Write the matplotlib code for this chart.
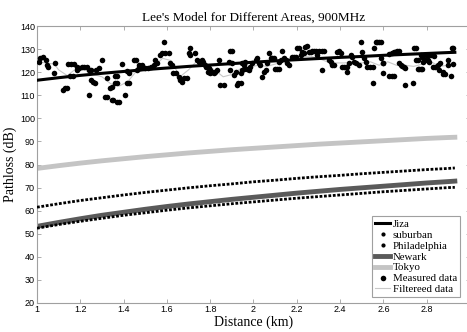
import numpy as np
import matplotlib
matplotlib.use('Agg')
from matplotlib import pyplot as plt
from matplotlib.lines import Line2D

# model curves
d_model = [1.0, 1.1, 1.2, 1.3, 1.4, 1.5, 1.6, 1.7, 1.8, 1.9, 2.0, 2.1, 2.2, 2.3, 2.4, 2.5, 2.6, 2.7, 2.8, 2.9, 2.93]
jiza = [116.5, 117.6, 118.6, 119.5, 120.3, 121.1, 121.8, 122.5, 123.1, 123.7, 124.3, 124.9, 125.4, 125.9, 126.4, 126.8, 127.3, 127.7, 128.1, 128.5, 128.6]
tokyo = [78.3, 79.5, 80.6, 81.6, 82.5, 83.4, 84.2, 85.0, 85.7, 86.4, 87.0, 87.6, 88.2, 88.8, 89.3, 89.8, 90.3, 90.8, 91.3, 91.7, 91.8]
suburban = [61.5, 63.0, 64.4, 65.6, 66.8, 67.9, 68.9, 69.9, 70.8, 71.6, 72.5, 73.2, 74.0, 74.7, 75.3, 76.0, 76.6, 77.2, 77.8, 78.3, 78.5]
newark = [53.2, 54.9, 56.5, 58.0, 59.3, 60.6, 61.8, 62.9, 63.9, 64.9, 65.8, 66.7, 67.6, 68.4, 69.2, 69.9, 70.6, 71.3, 72.0, 72.6, 72.8]
philadelphia = [52.4, 54.0, 55.4, 56.7, 58.0, 59.1, 60.2, 61.2, 62.1, 63.0, 63.8, 64.6, 65.4, 66.1, 66.8, 67.5, 68.2, 68.8, 69.4, 70.0, 70.1]

# measured data (distance km, pathloss dB)
d_meas = [1.014, 1.026, 1.04, 1.01, 1.045, 1.052, 1.083, 1.08, 1.12, 1.13, 1.137, 1.145, 1.157, 1.153, 1.165,
          1.173, 1.183, 1.184, 1.196, 1.207, 1.219, 1.23, 1.238, 1.25, 1.242, 1.25, 1.26, 1.27, 1.273, 1.288,
          1.3, 1.323, 1.315, 1.325, 1.335, 1.346, 1.346, 1.353, 1.36, 1.37, 1.37, 1.38, 1.36, 1.37, 1.392,
          1.407, 1.415, 1.427, 1.415, 1.427, 1.45, 1.458, 1.47,
          1.46, 1.47, 1.485, 1.477, 1.5, 1.515, 1.528, 1.54, 1.546, 1.569, 1.577, 1.585, 1.59, 1.608, 1.554,
          1.616, 1.623, 1.63, 1.64, 1.654, 1.662, 1.67, 1.68, 1.693, 1.7, 1.708, 1.708, 1.73, 1.74, 1.747,
          1.76, 1.767, 1.775, 1.78, 1.793, 1.8, 1.81, 1.816, 1.79, 1.8, 1.84, 1.847, 1.862, 1.824, 1.832,
          1.886, 1.9, 1.893, 1.9, 1.89, 1.91, 1.917, 1.925, 1.93, 1.94, 1.948, 1.955,
          1.948, 1.955, 1.963, 1.94, 1.955, 1.97, 1.978, 1.986, 1.994, 2.01, 2.017, 2.025, 2.03, 2.04, 2.048,
          2.056, 2.063, 2.07, 2.08, 2.087, 2.094, 2.1, 2.11, 2.12, 2.117, 2.125, 2.133, 2.14, 2.148, 2.156,
          2.163, 2.18, 2.187, 2.194, 2.2, 2.21, 2.218, 2.225, 2.233, 2.24, 2.248, 2.256, 2.264, 2.27, 2.28,
          2.287, 2.295, 2.302, 2.318, 2.318, 2.325, 2.349, 2.356, 2.364, 2.372, 2.387, 2.395, 2.403, 2.41,
          2.418, 2.426, 2.434, 2.441,
          2.434, 2.45, 2.457, 2.465, 2.472, 2.488, 2.495, 2.503, 2.51, 2.52, 2.526, 2.537, 2.55, 2.55, 2.557,
          2.565, 2.572, 2.58, 2.588, 2.588, 2.596, 2.6, 2.6, 2.627, 2.64, 2.65, 2.627, 2.64, 2.65, 2.654,
          2.665, 2.672, 2.672, 2.68, 2.688, 2.696, 2.7, 2.7, 2.735, 2.742, 2.75, 2.75, 2.758, 2.758, 2.765,
          2.773, 2.78, 2.773, 2.78, 2.784, 2.793, 2.804, 2.81, 2.796, 2.804, 2.82, 2.83, 2.835, 2.827, 2.84,
          2.85, 2.86, 2.858, 2.873, 2.876, 2.886, 2.897, 2.9, 2.912, 2.917, 2.922, 2.922]
pl_meas = [126.3, 126.5, 125.3, 124.3, 123.1, 122.4, 124.1, 119.5, 112.3, 113.0, 113.3, 123.4, 123.4, 118.4, 118.4,
           123.4, 122.4, 121.0, 121.7, 122.4, 122.4, 122.4, 121.0, 121.0, 110.1, 116.6, 115.9, 115.2, 121.0, 121.7,
           125.3, 117.4, 109.4, 109.1, 113.0, 113.7, 108.0, 108.0, 115.2, 115.2, 107.2, 107.2, 118.4, 118.4, 123.4,
           110.1, 115.5, 115.5, 120.5, 119.8, 125.3, 125.3, 123.1,
           121.0, 122.4, 123.1, 121.7, 121.7, 121.7, 122.4, 123.1, 125.3, 127.4, 128.2, 133.2, 128.2, 128.2, 123.9,
           123.9, 123.1, 119.5, 119.5, 118.0, 116.6, 115.9, 117.4, 117.4, 128.2, 127.4, 130.3, 128.2, 125.3, 124.5,
           125.3, 124.5, 123.1, 122.4, 121.7, 121.0, 120.2, 119.5, 120.0, 119.5, 125.3, 114.5, 114.5, 120.2, 121.0,
           124.5, 123.9, 129.3, 129.3, 121.0, 118.8, 120.2, 114.5, 115.5, 119.5, 121.0, 123.1,
           123.9, 123.9, 124.5, 115.2, 121.3, 121.3, 121.0, 122.4, 123.9, 125.3, 126.0, 123.9, 123.1, 118.0, 120.2,
           121.0, 123.9, 128.2, 126.0, 126.0, 126.0, 121.3, 121.3, 121.3, 124.5, 125.3, 129.3, 126.0, 125.3, 123.9,
           123.1, 126.7, 126.7, 126.4, 130.3, 130.3, 127.4, 128.9, 128.2, 131.0, 131.3, 128.9, 128.9, 129.3, 129.3,
           129.3, 127.4, 129.3, 121.0, 129.3, 129.3, 125.3, 124.5, 123.1, 123.1, 128.9, 129.3, 128.2, 122.4,
           122.4, 122.1, 120.2, 123.9,
           122.4, 127.4, 126.7, 124.5, 123.9, 123.1, 133.2, 128.9, 126.0, 124.5, 122.4, 122.4, 122.4, 115.5, 130.3,
           133.2, 133.2, 133.2, 133.2, 126.0, 123.9, 124.1, 119.5, 118.4, 118.4, 118.4, 128.0, 128.3, 128.9, 128.9,
           129.3, 129.3, 123.9, 123.1, 122.7, 122.4, 121.7, 114.5, 115.5, 130.3, 130.3, 125.3, 125.3, 121.3, 121.3,
           121.3, 121.3, 127.4, 126.7, 124.5, 125.3, 125.3, 124.5, 127.4, 127.4, 127.4, 127.4, 127.0, 122.4, 122.4,
           123.1, 123.9, 121.0, 120.2, 119.2, 119.2, 123.1, 125.3, 118.4, 130.3, 130.3, 123.5]

# filtered data (thin gray line)
d_filt = [1.0, 1.04, 1.08, 1.1, 1.14, 1.18, 1.22, 1.26, 1.3, 1.34, 1.38, 1.42, 1.46, 1.5, 1.54, 1.58, 1.62,
          1.66, 1.7, 1.74, 1.78, 1.82, 1.86, 1.9, 1.94, 1.98, 2.02, 2.06, 2.1, 2.14, 2.18, 2.22, 2.26, 2.3,
          2.34, 2.38, 2.42, 2.46, 2.5, 2.54, 2.58, 2.62, 2.66, 2.7, 2.74, 2.78, 2.82, 2.86, 2.9, 2.93]
pl_filt = [124.5, 124.0, 123.5, 121.0, 118.5, 121.5, 121.0, 119.0, 118.0, 115.0, 114.0, 116.0, 120.5, 121.5,
           122.5, 126.0, 125.0, 118.0, 121.0, 125.0, 123.0, 121.0, 118.0, 119.0, 121.5, 122.0, 123.0, 122.5,
           123.5, 124.5, 125.5, 126.5, 127.0, 126.0, 124.5, 124.0, 124.0, 124.5, 124.0, 124.5, 123.0, 124.5,
           123.0, 123.0, 122.5, 123.5, 124.5, 122.5, 123.0, 123.5]

serif = 'Liberation Serif'
sans = 'Liberation Sans'
grey = '#a0a0a0'

fig = plt.figure(figsize=(4.67, 3.32), dpi=100)
ax = fig.add_axes([37/467, 1 - 303/332, 433/467, 277/332])

ax.plot(d_filt, pl_filt, color='#c8c8c8', lw=0.8, zorder=2)
ax.plot(d_meas, pl_meas, 'o', color='black', ms=4.0, mew=0, zorder=3)
ax.plot(d_model, jiza, color='black', lw=2.2, zorder=4)
ax.plot(d_model, tokyo, color='#c4c4c4', lw=3.5, zorder=2)
ax.plot(d_model, suburban, color='black', lw=2.0, ls=(0, (1, 0.6)), zorder=3)
ax.plot(d_model, newark, color='#5a5a5a', lw=3.5, zorder=2)
ax.plot(d_model, philadelphia, color='black', lw=2.0, ls=(0, (1, 0.6)), zorder=3)

ax.set_xlim(1, 3)
ax.set_ylim(20, 140)
ax.set_xticks(np.arange(1, 3.01, 0.2))
ax.set_xticklabels(['1', '1.2', '1.4', '1.6', '1.8', '2', '2.2', '2.4', '2.6', '2.8', '3'])
ax.set_yticks(range(20, 141, 10))
ax.tick_params(direction='in', top=True, right=True, length=3, width=0.6, color=grey,
               labelsize=6.5, pad=1.5)
for lab in ax.get_xticklabels() + ax.get_yticklabels():
    lab.set_family(sans)
for s in ax.spines.values():
    s.set_color(grey)
    s.set_linewidth(0.8)

ax.set_title("Lee's Model for Different Areas, 900MHz", family=serif, fontsize=9.5, pad=4)
ax.set_xlabel('Distance (km)', family=serif, fontsize=10, labelpad=1)
ax.set_ylabel('Pathloss (dB)', family=serif, fontsize=10, labelpad=2)

handles = [
    Line2D([], [], color='black', lw=2.2),
    Line2D([], [], color='black', marker='.', ls='none', ms=4),
    Line2D([], [], color='black', marker='.', ls='none', ms=4),
    Line2D([], [], color='#5a5a5a', lw=3.5),
    Line2D([], [], color='#c4c4c4', lw=3.5),
    Line2D([], [], color='black', marker='o', ls='none', ms=4.0, mew=0),
    Line2D([], [], color='#c8c8c8', lw=0.8),
]
labels = ['Jiza', 'suburban', 'Philadelphia', 'Newark', 'Tokyo', 'Measured data', 'Filtereed data']
leg = ax.legend(handles, labels, loc='lower right', bbox_to_anchor=(0.977, 0.02),
                prop={'family': serif, 'size': 7.8}, frameon=True, fancybox=False,
                edgecolor=grey, framealpha=1, borderpad=0.3, labelspacing=0.12,
                handlelength=1.4, handletextpad=0.2, borderaxespad=0)
leg.get_frame().set_linewidth(0.8)

fig.savefig('out.png', dpi=100)
